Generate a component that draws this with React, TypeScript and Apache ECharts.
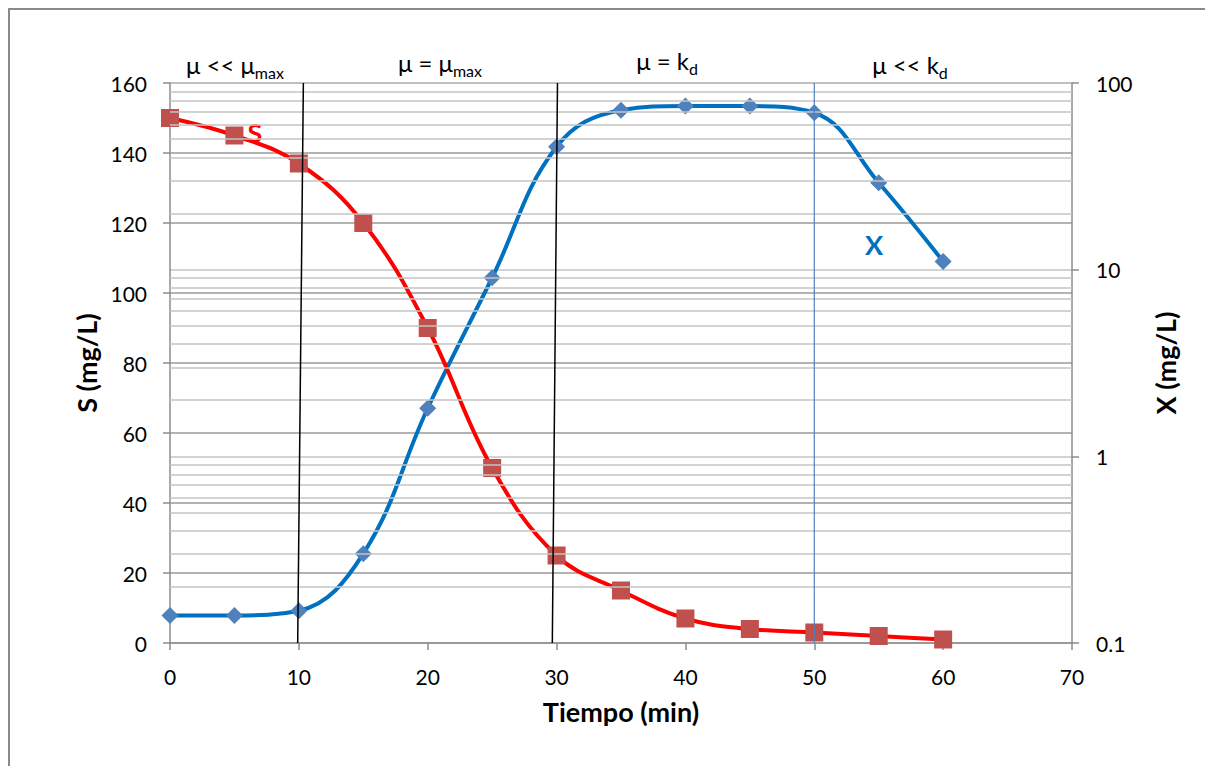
import React, { useEffect, useRef } from "react";
import * as echarts from "echarts";

// Time (min)
const tiempo = [0, 5, 10, 15, 20, 25, 30, 35, 40, 45, 50, 55, 60];
// Substrate S (mg/L), left linear axis
const sValues = [150, 145, 137, 120, 90, 50, 25, 15, 7, 4, 3, 2, 1];
// Biomass X (mg/L), right log axis
const xValues = [0.1405, 0.1405, 0.149, 0.301, 1.81, 9.05, 45.5, 71.5, 75.2, 75.2, 69.3, 29.2, 11.07];
// Minor log gridlines of the right axis
const logMinorTicks = [0.2, 0.3, 0.4, 0.5, 0.6, 0.7, 0.8, 0.9, 2, 3, 4, 5, 6, 7, 8, 9, 20, 30, 40, 50, 60, 70, 80, 90];
// Phase separator lines [x, S]
const phaseLine1 = [[10.35, 160], [9.91, 0]];
const phaseLine2 = [[30.07, 160], [29.67, 0]];
const phaseLine3 = [[50, 160], [50, 0]];
// Phase labels: [main text, subscript, x, y]
const phaseLabels: [string, string, number, number][] = [
  ["μ << μ", "max", 227, 56],
  ["μ = μ", "max", 432, 54],
  ["μ = k", "d", 659, 52],
  ["μ << k", "d", 902, 56],
];

const FONT = 'Lato, "Open Sans", sans-serif';

export default function App() {
  const ref = useRef<HTMLDivElement>(null);
  useEffect(() => {
    if (!ref.current) return;
    const chart = echarts.init(ref.current, undefined, { renderer: "svg" });
    const sData = tiempo.map((t, i) => [t, sValues[i]]);
    const xData = tiempo.map((t, i) => [t, xValues[i]]);
    const titleStyle = { fontFamily: FONT, fontSize: 27, fontWeight: "bold", color: "#000" };
    const option: any = {
      animation: false,
      backgroundColor: "#ffffff",
      textStyle: { fontFamily: FONT },
      grid: { left: 162, right: 133, top: 75, bottom: 123 },
      xAxis: {
        type: "value",
        min: 0,
        max: 70,
        interval: 10,
        name: "Tiempo (min)",
        nameLocation: "middle",
        nameGap: 55,
        nameTextStyle: titleStyle,
        axisLine: { show: true, lineStyle: { color: "#8c8c8c", width: 1.5 } },
        axisTick: { show: true, length: 7, lineStyle: { color: "#8c8c8c", width: 1.5 } },
        axisLabel: { fontFamily: FONT, fontSize: 21, color: "#000", margin: 23 },
        splitLine: { show: false },
      },
      yAxis: [
        {
          type: "value",
          min: 0,
          max: 160,
          interval: 20,
          name: "S (mg/L)",
          nameLocation: "middle",
          nameRotate: 90,
          nameGap: 67,
          nameTextStyle: titleStyle,
          axisLine: { show: true, lineStyle: { color: "#8c8c8c", width: 1.5 } },
          axisTick: { show: true, length: 7, lineStyle: { color: "#8c8c8c", width: 1.5 } },
          axisLabel: { fontFamily: FONT, fontSize: 21, color: "#000", margin: 23 },
          splitLine: { show: true, lineStyle: { color: "#9a9a9a", width: 1.5 } },
        },
        {
          type: "log",
          logBase: 10,
          min: 0.1,
          max: 100,
          position: "right",
          name: "X (mg/L)",
          nameLocation: "middle",
          nameRotate: 90,
          nameGap: 80,
          nameTextStyle: titleStyle,
          axisLine: { show: true, lineStyle: { color: "#8c8c8c", width: 1.5 } },
          axisTick: { show: true, length: 7, lineStyle: { color: "#8c8c8c", width: 1.5 } },
          axisLabel: {
            fontFamily: FONT,
            fontSize: 21,
            color: "#000",
            margin: 24,
            formatter: (v: number) => String(+v.toPrecision(3)),
          },
          splitLine: { show: true, lineStyle: { color: "#c4c4c4", width: 1.5 } },
        },
      ],
      series: [
        {
          type: "line",
          yAxisIndex: 1,
          data: [],
          z: 1,
          silent: true,
          markLine: {
            silent: true,
            symbol: ["none", "none"],
            label: { show: false },
            lineStyle: { color: "#c4c4c4", width: 1.5, type: "solid" },
            emphasis: { disabled: true },
            data: logMinorTicks.map((v) => ({ yAxis: v })),
          },
        },
        {
          name: "X",
          type: "line",
          yAxisIndex: 1,
          data: xData,
          smooth: 0.4,
          symbol: "diamond",
          symbolSize: 17,
          lineStyle: { color: "#0070c0", width: 4 },
          itemStyle: { color: "#4f81bd" },
          z: 3,
        },
        {
          name: "S",
          type: "line",
          yAxisIndex: 0,
          data: sData,
          smooth: 0.4,
          symbol: "rect",
          symbolSize: 18,
          lineStyle: { color: "#ff0000", width: 4 },
          itemStyle: { color: "#c0504d" },
          z: 4,
        },
        {
          type: "line",
          yAxisIndex: 0,
          data: phaseLine1,
          symbol: "none",
          lineStyle: { color: "#000000", width: 1.5 },
          z: 5,
          silent: true,
        },
        {
          type: "line",
          yAxisIndex: 0,
          data: phaseLine2,
          symbol: "none",
          lineStyle: { color: "#000000", width: 1.5 },
          z: 5,
          silent: true,
        },
        {
          type: "line",
          yAxisIndex: 0,
          data: phaseLine3,
          symbol: "none",
          lineStyle: { color: "#4f81bd", width: 1.2 },
          z: 5,
          silent: true,
        },
      ],
      graphic: [
        {
          type: "rect",
          shape: { x: 1, y: 1, width: 1400, height: 1000 },
          style: { fill: "none", stroke: "#8a8a8a", lineWidth: 2 },
          silent: true,
          z: 100,
        },
        ...phaseLabels.map(([main, sub, x, y]) => ({
          type: "text",
          x,
          y,
          silent: true,
          style: {
            text: `{a|${main}}{s|${sub}}`,
            align: "center",
            verticalAlign: "middle",
            rich: {
              a: { fontFamily: FONT, fontSize: 24, lineHeight: 32, fill: "#000", verticalAlign: "middle" },
              s: { fontFamily: FONT, fontSize: 16, lineHeight: 17, fill: "#000", verticalAlign: "bottom" },
            },
          },
        })),
        {
          type: "text",
          x: 247,
          y: 124,
          silent: true,
          style: {
            text: "S",
            fontFamily: FONT,
            fontSize: 27,
            fontWeight: "bold",
            fill: "#ff0000",
            align: "center",
            verticalAlign: "middle",
          },
        },
        {
          type: "text",
          x: 866,
          y: 236,
          silent: true,
          style: {
            text: "X",
            fontFamily: FONT,
            fontSize: 27,
            fontWeight: "bold",
            fill: "#0070c0",
            align: "center",
            verticalAlign: "middle",
          },
        },
      ],
    };
    chart.setOption(option);
    return () => chart.dispose();
  }, []);
  return <div ref={ref} style={{ width: 1197, height: 758 }} />;
}
